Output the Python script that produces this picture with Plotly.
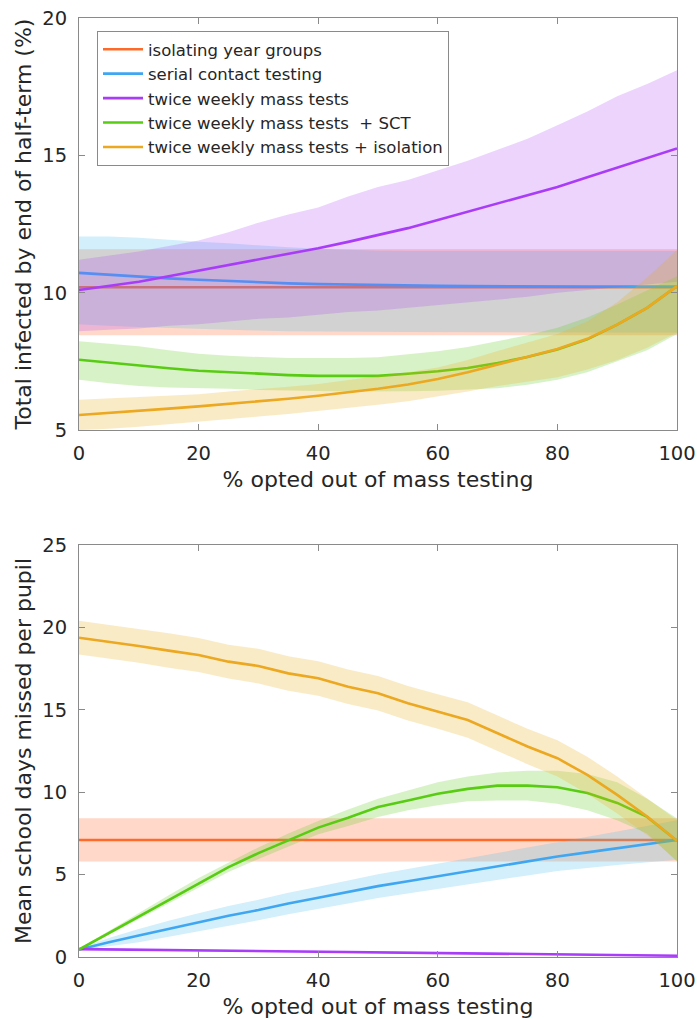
import plotly.graph_objects as go

x = [0, 5, 10, 15, 20, 25, 30, 35, 40, 45, 50, 55, 60, 65, 70, 75, 80, 85, 90, 95, 100]

names = ["isolating year groups", "serial contact testing", "twice weekly mass tests",
         "twice weekly mass tests  + SCT", "twice weekly mass tests + isolation"]
line_colors = ["#FF6A2A", "#3FA6F2", "#A93CF8", "#58CC12", "#EBA820"]
band_colors = ["rgba(255,100,40,0.25)", "rgba(77,190,238,0.25)", "rgba(168,60,245,0.22)",
               "rgba(100,205,30,0.25)", "rgba(237,177,32,0.25)"]

# ---- Top panel: total infected by end of half-term (%) ----
top_iso_mean = [10.2, 10.2, 10.2, 10.2, 10.2, 10.2, 10.2, 10.2, 10.2, 10.2, 10.2, 10.2, 10.2, 10.2, 10.2, 10.2, 10.2, 10.2, 10.2, 10.2, 10.2]
top_iso_up = [11.58, 11.58, 11.58, 11.58, 11.58, 11.58, 11.58, 11.58, 11.58, 11.58, 11.58, 11.58, 11.58, 11.58, 11.58, 11.58, 11.58, 11.58, 11.58, 11.58, 11.58]
top_iso_lo = [8.45, 8.45, 8.45, 8.45, 8.45, 8.45, 8.45, 8.45, 8.45, 8.45, 8.45, 8.45, 8.45, 8.45, 8.45, 8.45, 8.45, 8.45, 8.45, 8.45, 8.45]

top_sct_mean = [10.72, 10.65, 10.58, 10.52, 10.47, 10.42, 10.38, 10.34, 10.31, 10.29, 10.27, 10.26, 10.25, 10.24, 10.23, 10.23, 10.22, 10.22, 10.22, 10.22, 10.22]
top_sct_up = [12.05, 12.05, 12.0, 11.92, 11.85, 11.8, 11.72, 11.65, 11.6, 11.56, 11.53, 11.52, 11.52, 11.52, 11.52, 11.52, 11.52, 11.52, 11.52, 11.52, 11.52]
top_sct_lo = [8.85, 8.8, 8.75, 8.7, 8.68, 8.65, 8.62, 8.6, 8.6, 8.58, 8.58, 8.57, 8.56, 8.56, 8.55, 8.55, 8.55, 8.55, 8.55, 8.55, 8.55]

top_mass_mean = [10.1, 10.25, 10.4, 10.6, 10.8, 11.0, 11.2, 11.4, 11.62, 11.85, 12.1, 12.35, 12.65, 12.95, 13.25, 13.55, 13.85, 14.2, 14.55, 14.9, 15.25]
top_mass_up = [11.2, 11.35, 11.5, 11.7, 11.9, 12.2, 12.55, 12.85, 13.1, 13.5, 13.85, 14.1, 14.45, 14.8, 15.2, 15.6, 16.1, 16.6, 17.15, 17.6, 18.1]
top_mass_lo = [8.6, 8.65, 8.7, 8.8, 8.85, 8.95, 9.05, 9.1, 9.2, 9.3, 9.35, 9.45, 9.55, 9.65, 9.75, 9.85, 10.0, 10.1, 10.2, 10.3, 10.4]

top_msct_mean = [7.56, 7.45, 7.36, 7.25, 7.16, 7.1, 7.05, 7.0, 6.97, 6.96, 6.97, 7.05, 7.14, 7.26, 7.44, 7.66, 7.93, 8.3, 8.84, 9.45, 10.24]
top_msct_up = [8.23, 8.15, 8.05, 7.9, 7.78, 7.7, 7.65, 7.62, 7.62, 7.62, 7.65, 7.75, 7.87, 8.02, 8.23, 8.45, 8.72, 9.1, 9.57, 10.1, 10.6]
top_msct_lo = [6.83, 6.7, 6.6, 6.55, 6.52, 6.5, 6.46, 6.43, 6.42, 6.4, 6.4, 6.41, 6.43, 6.47, 6.52, 6.65, 6.83, 7.1, 7.5, 7.9, 8.5]

top_miso_mean = [5.55, 5.62, 5.7, 5.78, 5.86, 5.95, 6.04, 6.14, 6.25, 6.37, 6.5, 6.66, 6.86, 7.1, 7.38, 7.66, 7.95, 8.32, 8.84, 9.45, 10.24]
top_miso_up = [6.1, 6.15, 6.2, 6.25, 6.3, 6.4, 6.48, 6.58, 6.68, 6.82, 6.95, 7.1, 7.28, 7.55, 7.88, 8.18, 8.5, 8.95, 9.65, 10.55, 11.55]
top_miso_lo = [5.0, 5.05, 5.12, 5.2, 5.3, 5.4, 5.49, 5.58, 5.68, 5.8, 5.92, 6.05, 6.22, 6.4, 6.6, 6.75, 6.92, 7.2, 7.55, 8.0, 8.55]

# ---- Bottom panel: mean school days missed per pupil ----
bot_iso_mean = [7.1, 7.1, 7.1, 7.1, 7.1, 7.1, 7.1, 7.1, 7.1, 7.1, 7.1, 7.1, 7.1, 7.1, 7.1, 7.1, 7.1, 7.1, 7.1, 7.1, 7.1]
bot_iso_up = [8.42, 8.42, 8.42, 8.42, 8.42, 8.42, 8.42, 8.42, 8.42, 8.42, 8.42, 8.42, 8.42, 8.42, 8.42, 8.42, 8.42, 8.42, 8.42, 8.42, 8.42]
bot_iso_lo = [5.8, 5.8, 5.8, 5.8, 5.8, 5.8, 5.8, 5.8, 5.8, 5.8, 5.8, 5.8, 5.8, 5.8, 5.8, 5.8, 5.8, 5.8, 5.8, 5.8, 5.8]

bot_sct_mean = [0.45, 0.9, 1.3, 1.7, 2.1, 2.5, 2.85, 3.25, 3.6, 3.95, 4.3, 4.6, 4.9, 5.2, 5.5, 5.8, 6.1, 6.35, 6.6, 6.85, 7.1]
bot_sct_up = [0.5, 1.15, 1.7, 2.2, 2.65, 3.1, 3.47, 3.9, 4.27, 4.65, 5.02, 5.34, 5.66, 6.0, 6.32, 6.65, 6.98, 7.3, 7.62, 7.95, 8.3]
bot_sct_lo = [0.4, 0.65, 0.9, 1.2, 1.55, 1.9, 2.23, 2.6, 2.93, 3.25, 3.58, 3.86, 4.14, 4.4, 4.68, 4.95, 5.22, 5.4, 5.58, 5.75, 5.9]

bot_mass_mean = [0.48, 0.46, 0.44, 0.42, 0.4, 0.38, 0.36, 0.34, 0.32, 0.3, 0.28, 0.26, 0.24, 0.22, 0.2, 0.18, 0.16, 0.14, 0.12, 0.1, 0.08]
bot_mass_up = [0.53, 0.51, 0.49, 0.47, 0.45, 0.43, 0.41, 0.39, 0.37, 0.35, 0.33, 0.31, 0.29, 0.27, 0.25, 0.23, 0.21, 0.19, 0.17, 0.15, 0.13]
bot_mass_lo = [0.43, 0.41, 0.39, 0.37, 0.35, 0.33, 0.31, 0.29, 0.27, 0.25, 0.23, 0.21, 0.19, 0.17, 0.15, 0.13, 0.11, 0.09, 0.07, 0.05, 0.03]

bot_msct_mean = [0.45, 1.45, 2.45, 3.5, 4.5, 5.45, 6.3, 7.1, 7.85, 8.45, 9.1, 9.5, 9.9, 10.2, 10.4, 10.4, 10.3, 9.95, 9.35, 8.5, 7.05]
bot_msct_up = [0.5, 1.6, 2.65, 3.75, 4.8, 5.75, 6.65, 7.5, 8.25, 8.95, 9.6, 10.1, 10.6, 10.95, 11.2, 11.3, 11.3, 11.1, 10.6, 9.6, 8.4]
bot_msct_lo = [0.4, 1.3, 2.25, 3.25, 4.2, 5.15, 5.95, 6.7, 7.45, 7.95, 8.5, 8.9, 9.2, 9.45, 9.5, 9.5, 9.3, 8.9, 8.3, 7.5, 5.8]

bot_miso_mean = [19.37, 19.13, 18.87, 18.59, 18.32, 17.92, 17.66, 17.21, 16.91, 16.4, 16.0, 15.4, 14.89, 14.38, 13.58, 12.77, 12.06, 11.05, 9.84, 8.53, 7.05]
bot_miso_up = [20.4, 20.15, 19.9, 19.65, 19.35, 18.95, 18.7, 18.25, 17.95, 17.45, 17.05, 16.45, 15.95, 15.45, 14.65, 13.85, 13.15, 12.15, 10.95, 9.65, 8.3]
bot_miso_lo = [18.35, 18.1, 17.85, 17.55, 17.3, 16.9, 16.6, 16.15, 15.85, 15.35, 14.95, 14.35, 13.85, 13.3, 12.5, 11.7, 10.95, 9.9, 8.7, 7.4, 5.85]

top_series = [(top_iso_mean, top_iso_up, top_iso_lo), (top_sct_mean, top_sct_up, top_sct_lo),
              (top_mass_mean, top_mass_up, top_mass_lo), (top_msct_mean, top_msct_up, top_msct_lo),
              (top_miso_mean, top_miso_up, top_miso_lo)]
bot_series = [(bot_iso_mean, bot_iso_up, bot_iso_lo), (bot_sct_mean, bot_sct_up, bot_sct_lo),
              (bot_mass_mean, bot_mass_up, bot_mass_lo), (bot_msct_mean, bot_msct_up, bot_msct_lo),
              (bot_miso_mean, bot_miso_up, bot_miso_lo)]

FONT = "DejaVu Sans"
fig = go.Figure()

for panel, series, xa, ya in [(0, top_series, "x", "y"), (1, bot_series, "x2", "y2")]:
    for i, (m, up, lo) in enumerate(series):
        fig.add_trace(go.Scatter(
            x=x + x[::-1], y=up + lo[::-1], fill="toself", fillcolor=band_colors[i],
            line=dict(width=0), mode="lines", hoverinfo="skip", showlegend=False,
            xaxis=xa, yaxis=ya))
        fig.add_trace(go.Scatter(
            x=x, y=m, mode="lines", line=dict(color=line_colors[i], width=2.6),
            name=names[i], showlegend=(panel == 0), xaxis=xa, yaxis=ya))

axis_common = dict(showline=True, linecolor="#8a8a8a", linewidth=1, mirror="ticks",
                   ticks="inside", ticklen=6, tickcolor="#8a8a8a", showgrid=False,
                   zeroline=False, automargin=False, ticklabeloverflow="allow",
                   tickfont=dict(family=FONT, size=19.5, color="#262626"))
xcommon = dict(axis_common, ticklabelstandoff=6)
ycommon = dict(axis_common, ticklabelstandoff=7)
TFONT = dict(family=FONT, size=22, color="#262626")

fig.update_layout(
    width=697, height=1019,
    margin=dict(l=79, r=20, t=18, b=62),
    paper_bgcolor="white", plot_bgcolor="white",
    font=dict(family=FONT, color="#262626"),
    xaxis=dict(domain=[0, 1], range=[0, 100], tickvals=[0, 20, 40, 60, 80, 100], anchor="y",
               title=dict(text="% opted out of mass testing", font=TFONT, standoff=7),
               **xcommon),
    yaxis=dict(domain=[0.5612, 1], range=[5, 20], tickvals=[5, 10, 15, 20], anchor="x",
               title=dict(text="Total infected by end of half-term (%)", font=TFONT, standoff=4),
               **ycommon),
    xaxis2=dict(domain=[0, 1], range=[0, 100], tickvals=[0, 20, 40, 60, 80, 100], anchor="y2",
                title=dict(text="% opted out of mass testing", font=TFONT, standoff=7),
                **xcommon),
    yaxis2=dict(domain=[0, 0.4388], range=[0, 25], tickvals=[0, 5, 10, 15, 20, 25], anchor="x2",
                title=dict(text="Mean school days missed per pupil", font=TFONT, standoff=4),
                **ycommon),
    legend=dict(x=0.0301, y=0.9862, xanchor="left", yanchor="top", bgcolor="white",
                bordercolor="#8a8a8a", borderwidth=1, font=dict(family=FONT, size=16.5, color="#262626"),
                tracegroupgap=0, itemwidth=40),
    showlegend=True,
)

fig.write_html("out.html", config={"displayModeBar": False},
               post_script="document.body.style.margin='0px';document.body.style.overflow='hidden';")
